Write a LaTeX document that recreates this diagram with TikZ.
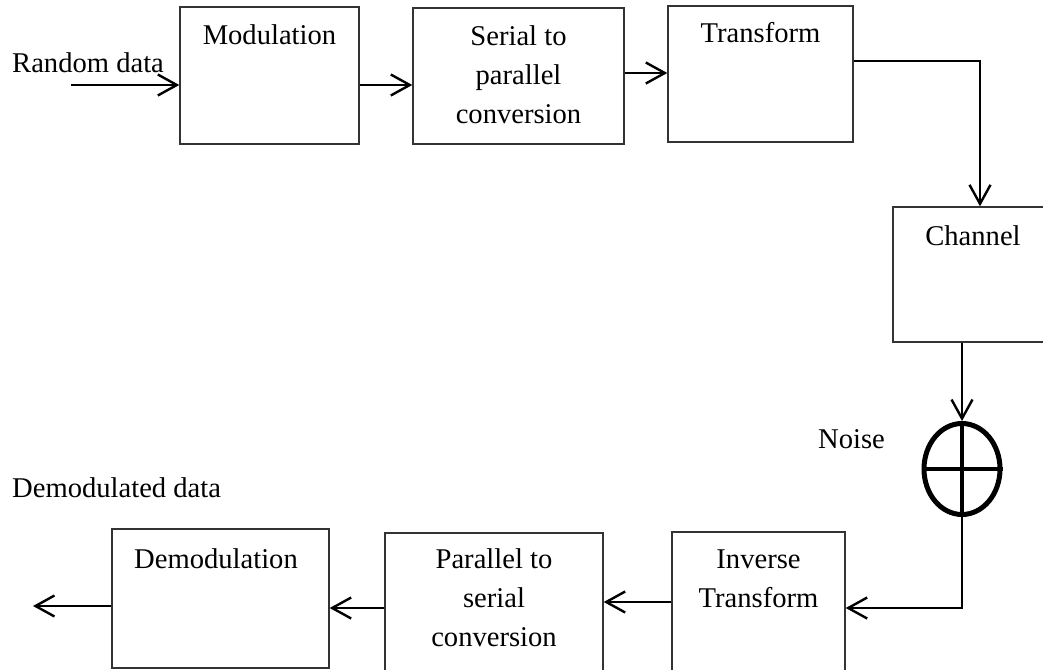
\documentclass[tikz,border=0pt]{standalone}
\usepackage{fontspec}
\setmainfont{Liberation Serif}
\usetikzlibrary{arrows.meta,shapes.geometric}

\tikzset{
  blk/.style={draw=black!80, line width=1.4pt, rectangle, inner sep=0pt},
  lbl/.style={font=\fontsize{28.6}{39}\selectfont, inner sep=0pt, align=center},
  flow/.style={line width=2.4pt, -{Straight Barb[length=19pt,width=21pt,line width=2.4pt]}},
  wire/.style={line width=4pt},
  adder/.style={draw, ellipse, line width=5pt, minimum width=76pt, minimum height=91pt, inner sep=0pt}
}

\begin{document}
\begin{tikzpicture}[x=1pt, y=-1pt]
  \useasboundingbox (0,0) rectangle (1043,669);
  \clip (0,0) rectangle (1043,669);

  % processing blocks
  \node[blk, minimum width=179pt, minimum height=137pt] (mod)   at (269.5,75.5) {};
  \node[blk, minimum width=211pt, minimum height=136pt] (s2p)   at (518.5,76)   {};
  \node[blk, minimum width=185pt, minimum height=136pt] (tr)    at (760.5,74)   {};
  \node[blk, minimum width=157pt, minimum height=135pt] (ch)    at (971.5,274.5){};
  \node[blk, minimum width=173pt, minimum height=158pt] (it)    at (758.5,611)  {};
  \node[blk, minimum width=218pt, minimum height=157pt] (p2s)   at (494,611.5)  {};
  \node[blk, minimum width=217pt, minimum height=139pt] (demod) at (220.5,598.5){};

  % summing junction for the noise
  \node[adder] (sum) at (962,469) {};
  \draw[wire] (sum.north) -- (sum.south);
  \draw[wire] (sum.west) -- (sum.east);

  % block captions (base anchor sits on the last line)
  \node[lbl, anchor=base] (modt)   at (269.5,45)  {Modulation};
  \node[lbl, anchor=base] (s2pt)   at (518.5,123) {Serial to\\parallel\\conversion};
  \node[lbl, anchor=base] (trt)    at (760.5,43)  {Transform};
  \node[lbl, anchor=base] (cht)    at (973,245)   {Channel};
  \node[lbl, anchor=base] (itt)    at (758.5,607) {Inverse\\Transform};
  \node[lbl, anchor=base] (p2st)   at (494,646)   {Parallel to\\serial\\conversion};
  \node[lbl, anchor=base] (demodt) at (216,568)   {Demodulation};

  % free labels
  \node[lbl, anchor=base west] (rnd)   at (12,72)   {Random data};
  \node[lbl, anchor=base west] (noise) at (818,448) {Noise};
  \node[lbl, anchor=base west] (dout)  at (12,497)  {Demodulated data};

  % signal path
  \coordinate (src) at (71,85);
  \coordinate (sink) at (33,606);
  \draw[flow] (src) -- (src -| mod.west);
  \draw[flow] (mod.east |- 0,85) -- (s2p.west |- 0,85);
  \draw[flow] (s2p.east |- 0,73) -- (tr.west |- 0,73);
  \draw[flow] (tr.east |- 0,61) -| ([xshift=8.5pt]ch.north);
  \draw[flow] (sum |- ch.south) -- (sum.north);
  \draw[flow] (sum.south) |- (it.east |- 0,608);
  \draw[flow] (it.west |- 0,602) -- (p2s.east |- 0,602);
  \draw[flow] (p2s.west |- 0,608) -- (demod.east |- 0,608);
  \draw[flow] (demod.west |- 0,606) -- (sink);
\end{tikzpicture}
\end{document}
